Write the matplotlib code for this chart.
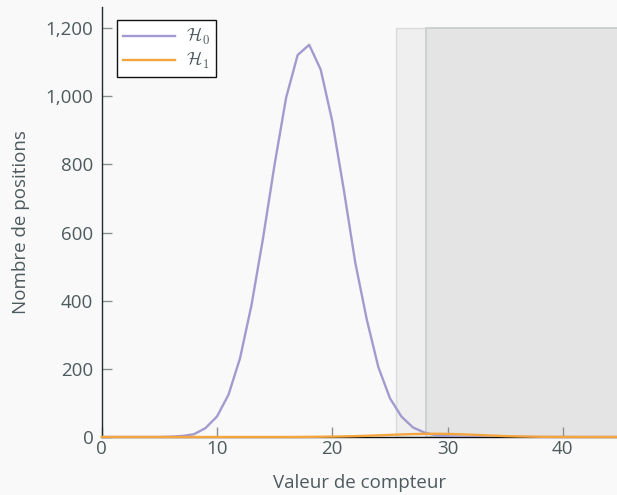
import matplotlib
matplotlib.use("Agg")
import matplotlib.pyplot as plt

plt.rcParams['font.family'] = ['Open Sans', 'DejaVu Sans']
plt.rcParams['mathtext.fontset'] = 'cm'

counts = list(range(0, 46))
h0 = [0, 0, 0, 0, 0, 0, 1, 3, 8, 26, 60, 124, 231, 388, 584, 800, 996, 1121, 1151,
      1078, 927, 726, 511, 344, 205, 114, 60, 28, 13, 5, 2, 1, 0, 0, 0, 0, 0, 0, 0,
      0, 0, 0, 0, 0, 0, 0]
h1 = [0, 0, 0, 0, 0, 0, 0, 0, 0, 0, 0, 0, 0, 0, 0, 0, 0, 0.2, 0.4,
      0.7, 1.1, 1.7, 2.5, 3.5, 4.8, 6.1, 7.4, 8.5, 9.2, 9.4, 9.0, 8.1, 6.8, 5.3, 3.9, 2.7,
      1.8, 1.1, 0.6, 0.3, 0.2, 0.1, 0, 0, 0, 0]
labels = [r'$\mathcal{H}_0$', r'$\mathcal{H}_1$']
region_light = (25.5, 45)
region_dark = (28.1, 45)
region_height = 1200

text_col = '#4d5a5e'
bg = '#f9f9f9'

fig = plt.figure(figsize=(6.17, 4.95), dpi=100, facecolor=bg)
ax = fig.add_axes([0.1648, 0.1172, 1 - 0.1648, 0.9859 - 0.1172], facecolor=bg)

ax.fill_between(region_light, 0, region_height, facecolor='#efefef', edgecolor='#d9dbdb',
                linewidth=1.0, zorder=1)
ax.fill_between(region_dark, 0, region_height, facecolor='#e4e4e4', edgecolor='#c8cccc',
                linewidth=1.2, zorder=1.5)

ax.plot(counts, h0, color='#a19bcf', lw=1.7, label=labels[0], zorder=3)
ax.plot(counts, h1, color='#f4a53f', lw=1.7, label=labels[1], zorder=3, clip_on=False)

ax.set_xlim(0, 44.7)
ax.set_ylim(0, 1262)
ax.set_xticks([0, 10, 20, 30, 40])
ax.set_yticks([0, 200, 400, 600, 800, 1000, 1200])
ax.set_yticklabels(['0', '200', '400', '600', '800', '1,000', '1,200'])

for s in ['top', 'right']:
    ax.spines[s].set_visible(False)
ax.spines['left'].set_color('#1f2a2e')
ax.spines['bottom'].set_color('#111111')
ax.spines['left'].set_linewidth(1.0)
ax.spines['bottom'].set_linewidth(1.0)
ax.spines['bottom'].set_zorder(2.5)

ax.tick_params(direction='in', length=7, width=1, color='#8a8f90', labelsize=13.5,
               labelcolor=text_col, pad=6)
ax.tick_params(axis='x', pad=2)

ax.set_xlabel('Valeur de compteur', fontsize=13.5, color=text_col, labelpad=12)
ax.set_ylabel('Nombre de positions', fontsize=13.5, color=text_col, labelpad=11)

leg = ax.legend(loc='upper left', bbox_to_anchor=(0.03, 0.97), borderaxespad=0,
                fontsize=13, frameon=True, fancybox=False, shadow=False,
                edgecolor='#111111', framealpha=1, borderpad=0.35, handlelength=2.85,
                handletextpad=0.6, labelspacing=0.15)
leg.get_frame().set_linewidth(1.0)
for t in leg.get_texts():
    t.set_color(text_col)

fig.savefig('out.png', dpi=100, facecolor=bg)
